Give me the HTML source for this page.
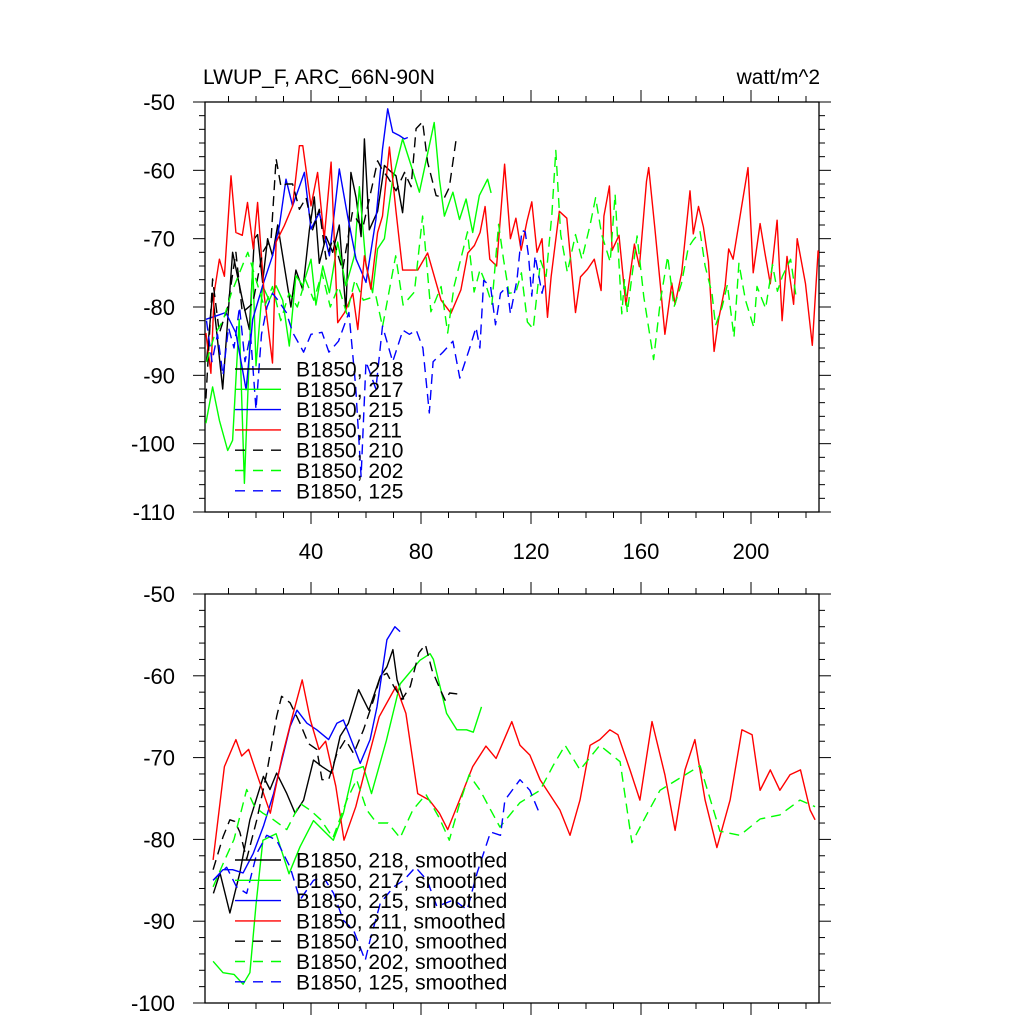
<!DOCTYPE html>
<html><head><meta charset="utf-8">
<style>
html,body{margin:0;padding:0;background:#fff;}
svg{display:block;font-family:"Liberation Sans",Arial,sans-serif;}
</style></head>
<body>
<svg id="chart" width="1024" height="1024" viewBox="0 0 1024 1024" xmlns="http://www.w3.org/2000/svg">
<defs>
<clipPath id="clipTop"><rect x="205" y="102" width="614" height="410"/></clipPath>
<clipPath id="clipBot"><rect x="205" y="594" width="614" height="409"/></clipPath>
</defs>
<text x="203" y="84" font-size="21">LWUP_F, ARC_66N-90N</text>
<text x="820" y="84" font-size="21" text-anchor="end">watt/m^2</text>
<g id="layer"></g>
</svg>
<script>
// ---- data ----
const xTickLabels = [40, 80, 120, 160, 200];
const yTicksTop = [-50, -60, -70, -80, -90, -100, -110];
const yTicksBot = [-50, -60, -70, -80, -90, -100];
const seriesNames = ["B1850, 218", "B1850, 217", "B1850, 215", "B1850, 211", "B1850, 210", "B1850, 202", "B1850, 125"];

const top218 = [[2,-88],[4.2,-78],[7.9,-92],[11.5,-72],[15.1,-79],[17.6,-83.3],[19.4,-70],[20.6,-69.4],[22.4,-76.4],[24.2,-70],[26,-72.5],[27.9,-68],[32.7,-80],[34.5,-74.6],[37,-77.5],[39.4,-68.7],[41.2,-63.9],[43,-73.6],[45.5,-69.7],[47.9,-72],[50.3,-68],[52.7,-80.6],[54.5,-60.3],[56.4,-64],[58.2,-69.7],[59.4,-55.4],[61.2,-68.7],[64.2,-66],[66.7,-59.3],[68.5,-60],[70.9,-60.8],[73.3,-66.2],[74.5,-61]];
const top217 = [[1.8,-97],[4.2,-91.7],[6.7,-96.6],[9.7,-101],[11.5,-99.5],[13.9,-81.8],[15.8,-105.8],[17.6,-86.7],[18.8,-73.5],[20,-88.6],[22.4,-76.9],[24.8,-79],[27.3,-76.9],[29.7,-79],[32.1,-85.7],[34.5,-75.4],[37,-76.9],[40,-73],[41.8,-79.7],[44.3,-74],[46.7,-77.9],[49.7,-70.5],[52.7,-76.9],[55.8,-72.5],[57.6,-62.4],[60,-73.9],[62.4,-77.9],[64.2,-71.5],[66.7,-70],[69.7,-61.3],[73.3,-55.4],[76.4,-59.3],[79.4,-63.2],[83,-56.4],[84.8,-53],[86.7,-61.3],[88.5,-66.7],[91.6,-63.2],[94,-67.2],[96.4,-64.2],[98.8,-69.1],[101.2,-63.7],[104.2,-61.3],[105.5,-63.3]];
const top215 = [[1.8,-81.8],[5.5,-81.3],[9,-80.8],[12.7,-83.8],[16.4,-92.1],[18.8,-81.8],[22.4,-76.9],[26,-72.5],[28.5,-68.1],[30.9,-61.3],[33.3,-65.2],[37.6,-60.3],[40,-68.6],[43,-66.2],[46.7,-72.5],[50.3,-59.8],[53.3,-66.7],[56.4,-73],[60,-76.4],[63.6,-67.2],[66,-56.9],[67.9,-51],[69.7,-54.4],[72.1,-54.9],[74,-55.4],[75.2,-55.2]];
const top211 = [[1.8,-83.8],[3.6,-89.7],[4.8,-77.9],[6.7,-73],[8.5,-75.5],[10.9,-60.8],[12.7,-69.1],[15,-69.5],[16.9,-64.7],[19,-71.5],[20.6,-64.7],[23,-78.4],[26,-88.2],[27.3,-70.5],[30.3,-68.1],[33.3,-65.2],[35.8,-56.4],[37,-56.4],[40,-65.2],[42.4,-60.3],[44.8,-70],[47.3,-58.8],[49.7,-82.3],[52.2,-80.8],[55.2,-78],[57,-83.3],[59.4,-72.5],[61.8,-77.4],[64.2,-69.1],[66,-66.7],[68.5,-56.6],[70.9,-66],[73.3,-74.6],[78.8,-74.6],[82.4,-72.1],[87.3,-79],[90.9,-80.9],[94.5,-77.5],[97,-72.1],[99.4,-71],[101.5,-69.1],[103.3,-65.3],[105,-73],[107.5,-74],[110.4,-59.1],[112.5,-70],[114.5,-67],[116.4,-71.7],[118.5,-67.5],[120.3,-64.6],[122.2,-72],[124,-70],[126,-81.5],[127.3,-75.6],[130.3,-66],[133,-67],[136.2,-80.8],[138,-75.6],[140.5,-74.5],[143,-73],[145.5,-77.6],[146.5,-66.7],[148.5,-62.3],[149.5,-71.7],[152,-69.5],[154.5,-79.7],[157.6,-70.8],[159.4,-74.1],[162,-61.6],[162.8,-59.6],[165,-68.4],[167,-76.7],[168.7,-84],[171.2,-76.5],[172.4,-79.6],[174.8,-75],[177.8,-63],[179,-69.3],[180.9,-65.3],[182.7,-68.3],[184.5,-73.3],[186.6,-86.5],[188.2,-81.9],[190.6,-77],[191.9,-71.5],[193.5,-73],[196.5,-65.5],[198.9,-59.6],[200.8,-75],[203.3,-67.8],[205,-72],[207,-76.6],[209.5,-67.3],[211.3,-82],[213.1,-72.6],[215.5,-79.6],[216.8,-70],[219.8,-76.6],[222.3,-85.6],[224.4,-71.8],[225.4,-74],[226.6,-67.6]];
const top210 = [[1.8,-93.4],[4.2,-75.9],[6.7,-83.8],[9.7,-80],[12.7,-72],[15,-80.8],[18.8,-79.5],[22.4,-72],[25.5,-70],[27.3,-58.3],[29.1,-62.4],[31,-62],[33.3,-62],[35.8,-65.7],[38.2,-64],[40.6,-68.7],[43,-65.7],[45.5,-73],[48,-70],[51.5,-74.6],[55,-66.2],[58.8,-68.5],[62.4,-62],[64.2,-58.6],[66,-60],[67.9,-61],[70.9,-63],[74,-60.3],[76.4,-62.4],[78.2,-53.9],[80.6,-52.9],[82.4,-58.8],[85.5,-63.7],[88.5,-64],[90.3,-62.5],[92.7,-55.7]];
const top202 = [[2,-88],[5,-84],[8,-82],[11,-78],[14,-75],[17,-72],[20,-76],[23,-80],[26,-77],[29,-82],[32,-78],[35,-80],[38,-76],[41,-79],[44,-75],[47,-80],[50,-77],[53,-81],[56,-76],[59,-79],[63.6,-78.4],[66,-82.9],[70.8,-72.5],[73.5,-79.7],[77.6,-77.8],[80.6,-66.7],[83.6,-80.7],[87.3,-77],[89.7,-83.8],[92,-77],[96.9,-69],[99.3,-77.8],[101.5,-74.5],[103,-76],[105.8,-79.6],[108.2,-67.9],[110,-73],[112,-78],[114.5,-77.8],[116.5,-75],[118.7,-82.2],[120.8,-83.2],[123.5,-73.2],[125.5,-75.5],[127.6,-66.4],[129,-57.1],[130.8,-69.4],[133.2,-74.9],[136.2,-69.4],[138.5,-73],[141.5,-68],[143.5,-64],[145.7,-69.4],[148.8,-73.4],[150.6,-63.5],[153,-81],[154,-76],[155,-80.8],[158.6,-69.6],[161,-78.5],[164.6,-87.7],[167,-79.2],[169.7,-72.6],[172,-80],[174.7,-76.6],[177.2,-71.3],[179,-70.2],[181.5,-69],[183.3,-74],[185.8,-78],[187.1,-82.7],[189.5,-80],[191.4,-76.7],[193.8,-84.4],[195.6,-73.6],[198,-79],[201,-83],[202.2,-77],[205.3,-80.2],[207.8,-73.8],[209.6,-77.7],[211.4,-75.5],[214.4,-73],[216.3,-78.2]];
const top125 = [[2,-82],[4,-88],[6,-84],[8,-90],[10,-83],[12,-86],[14,-80],[16,-88],[18,-84],[20,-95],[22,-84],[24,-80],[26,-78],[28,-79],[31,-80.8],[33.3,-83.7],[37.3,-86.6],[40,-84],[44,-83.7],[46.5,-86.6],[50,-85],[53.8,-80.8],[56.2,-91.5],[58.2,-104.8],[60,-88],[63.6,-92],[66,-82.8],[69.7,-88],[73.4,-83.4],[75.8,-84],[78.3,-83.4],[80.7,-86],[83,-95.5],[84.4,-88],[88,-86.6],[91.6,-85],[94.1,-90.4],[97.7,-86],[100,-83],[101.4,-86],[102.8,-76.1],[105.3,-77],[107.1,-82.6],[108.9,-78],[111.3,-77],[112.5,-81],[114.9,-76],[116.7,-68.8],[117.9,-69],[119.1,-72.5],[120.3,-78.4],[121.5,-72.5],[124,-78],[125.2,-76]];

const bot218 = [[4.5,-86.6],[6.9,-84.1],[10.5,-89],[14.1,-84.1],[17.8,-77.6],[22.7,-72.3],[25.1,-73.9],[27.5,-71.9],[31.2,-74.4],[34.2,-76.8],[37.3,-75.2],[40.9,-70.3],[44,-71.1],[47.6,-71.9],[50.6,-67.4],[53.6,-65.8],[57.3,-61.7],[61,-64.2],[65.2,-60.1],[67.6,-58.9],[69.8,-56.8],[71.3,-60.5],[73.7,-62.9]];
const bot217 = [[4.4,-94.9],[8,-96.3],[12,-96.5],[15.3,-97.7],[17.8,-96.3],[20,-88],[22.5,-80.1],[27.3,-79.3],[32,-84.2],[36,-80.9],[40.9,-77.7],[45.7,-79.3],[48.1,-80.1],[51.8,-76.8],[55.4,-71.5],[59,-71.1],[62,-74.4],[67.4,-67.9],[72.4,-61],[79.6,-58.1],[83.3,-57.3],[84.5,-58],[89.3,-64.6],[93,-66.6],[96.6,-66.6],[99,-66.9],[102,-63.8]];
const bot215 = [[4.4,-85],[8,-83.7],[11.5,-83.7],[15.3,-84.1],[19,-81.7],[22.7,-78.4],[26.4,-74.4],[30,-69.5],[32.4,-66.2],[34.9,-64.2],[38.5,-65.8],[42.1,-66.6],[46.4,-67.8],[49.4,-65.8],[51.8,-65.4],[55.5,-68.6],[57.9,-70.7],[61.5,-67.8],[64,-63.8],[67.6,-55.6],[70.5,-54],[72.4,-54.6]];
const bot211 = [[4.4,-82.5],[8.5,-71.1],[12.7,-67.8],[14.8,-69.8],[17.3,-69],[21,-72.7],[25.2,-76.8],[29.5,-69.9],[33.2,-65],[36.8,-60.5],[39.8,-65.4],[42.9,-69],[45.3,-68],[49,-73.5],[52,-80.1],[56.3,-76],[60,-71.1],[64.8,-65],[70.9,-61.3],[74.5,-64.6],[78.8,-74.4],[83,-75.2],[86.7,-76.8],[89.7,-78.8],[94,-75.2],[98.8,-71.1],[103.6,-68.6],[107.3,-70.1],[113,-65.6],[116,-68.5],[119.6,-69.7],[123.3,-72.7],[130.5,-76.4],[134.2,-79.5],[137.8,-75.2],[141.5,-68.5],[145,-67.8],[148.7,-66.6],[151.6,-67.2],[156,-71.5],[159.6,-75.2],[164,-65.6],[168.7,-72.1],[172.4,-78.9],[176,-71.5],[179.6,-67.8],[183.3,-75.2],[187.6,-81],[192.4,-75.2],[196.7,-66.6],[200.4,-67.2],[203.3,-74],[207,-71.5],[210.5,-74],[214.2,-72.1],[218,-71.5],[221.5,-76.4],[223.3,-77.6]];
const bot210 = [[4.4,-83.7],[8,-79.7],[10.5,-77.6],[12.3,-77.8],[14.1,-79.1],[16.6,-82.4],[20.3,-77.6],[23.9,-71.9],[27.5,-65],[29.3,-62.5],[32.4,-63.3],[36,-65.8],[39.1,-68.3],[42.1,-69],[44,-72.7],[46.4,-72.7],[49.4,-69.5],[52.5,-67.8],[55.5,-69.5],[59.1,-66.6],[62.8,-62.9],[65.2,-60.1],[67.6,-59.7],[70.1,-61.3],[73.1,-62.9],[76.1,-61.3],[79.2,-57.2],[81.6,-56.2],[84,-59.3],[87,-61.7],[88.8,-63],[90.4,-62.1],[94.9,-62.3]];
const bot202 = [[4.4,-85.8],[8,-83],[12,-80],[16.6,-73.9],[19.5,-76],[22.5,-76.8],[26,-77.5],[31.2,-78.8],[36,-75.6],[40,-76.5],[43.6,-77.6],[48,-79.8],[53,-75.2],[56.6,-72.7],[60.3,-76.4],[63.9,-78],[68,-78],[72.4,-79.8],[77,-76.4],[81.8,-74.5],[86.7,-77.4],[90.3,-80.1],[93.9,-75.8],[97.5,-72.1],[101.5,-74],[108.7,-78.5],[116,-75.5],[123.3,-74],[128,-71],[132.4,-68.5],[137.8,-71.5],[145,-68.5],[152.4,-70.5],[156.7,-80.4],[162,-77],[166.9,-74],[174.2,-72.5],[181.5,-71],[188.7,-79],[196,-79.5],[203.3,-77.5],[210.5,-77],[217.8,-75.2],[223.3,-76]];
const bot125 = [[4.4,-85],[9.3,-83.4],[12.9,-85.8],[16.6,-86.6],[20.3,-81.7],[23.9,-79.5],[27.5,-80.1],[32.4,-83.4],[36,-87.4],[40.9,-85],[44.5,-84.6],[48.2,-86.6],[51.8,-89.9],[55.5,-91.1],[59.7,-94.8],[61.5,-92.3],[65.2,-87.8],[70.1,-85.8],[73.7,-85],[78,-83.4],[82.2,-85],[85.8,-88.2],[91.9,-87.4],[96.8,-88.6],[100.4,-84.1],[105.3,-79.1],[108.9,-79.5],[110.5,-75.2],[116,-72.7],[119.6,-74],[123.3,-77]];

// ---- axes ----
const NS = "http://www.w3.org/2000/svg";
const layer = document.getElementById("layer");
const X0 = 201, XS = 2.75, LEFT = 205, RIGHT = 819;
function xPx(v){ return X0 + XS * v; }
const panels = [
  {top:102, bottom:512, ymax:-50, ymin:-110, ticks:yTicksTop, clip:"clipTop", xlabels:true, legendY:369, suffix:"",
   series:[top218, top217, top215, top211, top210, top202, top125]},
  {top:594, bottom:1003, ymax:-50, ymin:-100, ticks:yTicksBot, clip:"clipBot", xlabels:false, legendY:860, suffix:", smoothed",
   series:[bot218, bot217, bot215, bot211, bot210, bot202, bot125]}
];
const colors = ["#000","#00ff00","#0000ff","#ff0000","#000","#00ff00","#0000ff"];
const dashed = [false,false,false,false,true,true,true];

function mk(tag, attrs, parent){
  const e = document.createElementNS(NS, tag);
  for (const k in attrs) e.setAttribute(k, attrs[k]);
  (parent||layer).appendChild(e);
  return e;
}

panels.forEach((p, pi) => {
  const yPx = v => p.top + (p.ymax - v) / (p.ymax - p.ymin) * (p.bottom - p.top);
  const g = mk("g", {});
  
  
  const fr = mk("rect", {x:LEFT, y:p.top, width:RIGHT-LEFT, height:p.bottom-p.top, fill:"none", stroke:"#000", "stroke-width":1.3}, g);
  
  
  for (let v = p.ymin; v <= p.ymax + 0.01; v += 2) {
    const major = Math.abs(v % 10) < 0.01;
    const y = yPx(v);
    const len = major ? 12 : 6;
    mk("line", {x1:LEFT-len, y1:y, x2:LEFT, y2:y, stroke:"#000", "stroke-width":1}, g);
    mk("line", {x1:RIGHT, y1:y, x2:RIGHT+len, y2:y, stroke:"#000", "stroke-width":1}, g);
  }
  p.ticks.forEach(v => {
    const t = mk("text", {x:175, y:yPx(v)+8, "font-size":22, "text-anchor":"end"}, g);
    t.textContent = v;
    
    
  });
  for (let v = 10; v <= 220; v += 10) {
    const major = v % 40 === 0;
    const x = xPx(v);
    const len = major ? 12 : 6;
    mk("line", {x1:x, y1:p.bottom, x2:x, y2:p.bottom+len, stroke:"#000", "stroke-width":1}, g);
    mk("line", {x1:x, y1:p.top-len, x2:x, y2:p.top, stroke:"#000", "stroke-width":1}, g);
  }
  if (p.xlabels) xTickLabels.forEach(v => {
    const t = mk("text", {x:xPx(v), y:559, "font-size":22, "text-anchor":"middle"}, g);
    t.textContent = v;
    
    
  });
  const sg = mk("g", {"clip-path":"url(#"+p.clip+")"}, g);
  p.series.forEach((s, i) => {
    const d = s.map((pt, k) => (k ? "L" : "M") + xPx(pt[0]).toFixed(1) + " " + yPx(pt[1]).toFixed(1)).join(" ");
    const path = mk("path", {d:d, fill:"none", stroke:colors[i], "stroke-width":1.4, "stroke-linejoin":"round"}, sg);
    if (dashed[i]) path.setAttribute("stroke-dasharray", "10 6");
    
    
  });
  seriesNames.forEach((n, i) => {
    const y = p.legendY + i * 20.3;
    const l = mk("line", {x1:235, y1:y, x2:281, y2:y, stroke:colors[i], "stroke-width":1.4}, g);
    if (dashed[i]) l.setAttribute("stroke-dasharray", "10 8");
    
    
    const t = mk("text", {x:296, y:y+7.5, "font-size":21}, g);
    t.textContent = n + p.suffix;
    
    
  });
});
</script>
</body></html>
